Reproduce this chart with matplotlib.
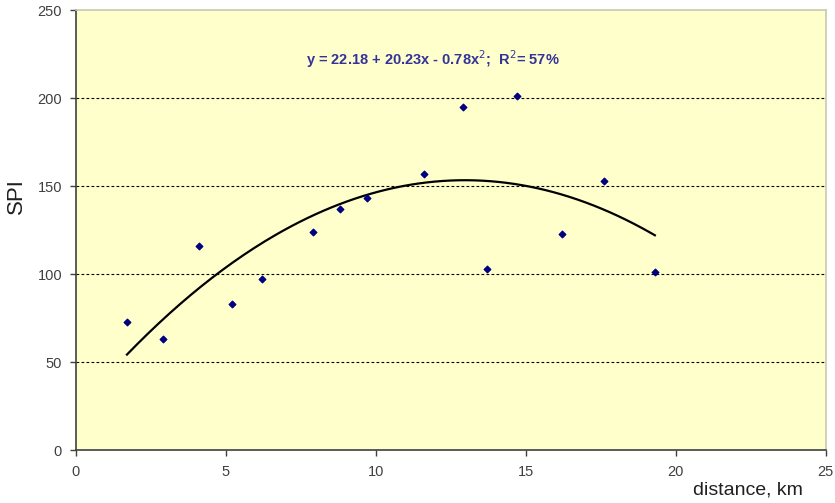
import numpy as np
import matplotlib
matplotlib.use("Agg")
import matplotlib.pyplot as plt

plt.rcParams['font.family'] = ['Liberation Sans', 'DejaVu Sans']

# odczytane punkty: odleglosc [km] i SPI
distance = [1.7, 2.9, 4.1, 5.2, 6.2, 7.9, 8.8, 9.7, 11.6, 12.9, 13.7, 14.7, 16.2, 17.6, 19.3]
spi = [73, 63, 116, 83, 97, 124, 137, 143, 157, 195, 103, 201, 123, 153, 101]

# wspolczynniki trendu z wykresu: y = a + b*x + c*x^2
coef_a = 22.18
coef_b = 20.23
coef_c = -0.78
equation = r"y = 22.18 + 20.23x - 0.78x$^{2}$;  R$^{2}$= 57%"

fig = plt.figure(figsize=(8.35, 5.03), dpi=100)
ax = fig.add_axes([0.091, 0.105, 0.898, 0.875])
ax.set_facecolor('#ffffcc')

# linia trendu
xs = np.linspace(min(distance), max(distance), 200)
ys = coef_a + coef_b * xs + coef_c * xs ** 2
ax.plot(xs, ys, color='black', lw=1.6, zorder=3)

# punkty
ax.scatter(distance, spi, marker='D', s=11, color='#000080', zorder=4)

ax.text(11.9, 222, equation, color='#333399', fontsize=10.5, fontweight='bold',
        ha='center', va='center')

ax.set_xlim(0, 25)
ax.set_ylim(0, 250)
ax.set_xticks([0, 5, 10, 15, 20, 25])
ax.set_yticks([0, 50, 100, 150, 200, 250])
for y in [50, 100, 150, 200]:
    ax.axhline(y, color='black', lw=0.8, linestyle=(0, (2.5, 2)), zorder=1)

ax.tick_params(axis='both', labelsize=10.5, colors='#404040', length=4, width=1)
ax.tick_params(axis='x', pad=7)
ax.tick_params(axis='y', pad=6)
for s in ['left', 'bottom']:
    ax.spines[s].set_color('#404040')
    ax.spines[s].set_linewidth(1.2)
for s in ['top', 'right']:
    ax.spines[s].set_color('#c8c8b4')
    ax.spines[s].set_linewidth(1.2)

ax.set_ylabel('SPI', fontsize=16, color='#202020')
ax.yaxis.set_label_coords(-0.066, 0.577)
ax.set_xlabel('distance, km', fontsize=14, color='#202020')
ax.xaxis.set_label_coords(0.896, -0.072)

fig.savefig('out.png', dpi=100, facecolor='white')
